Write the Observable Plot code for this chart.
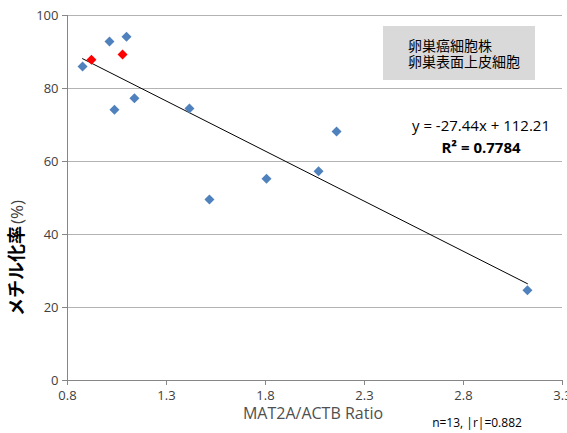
<!DOCTYPE html>
<html><head><meta charset="utf-8">
<script src="https://cdn.jsdelivr.net/npm/d3@7"></script>
<script src="https://cdn.jsdelivr.net/npm/@observablehq/plot@0.6"></script>
<style>
body{margin:0;background:#fff;}
#chart svg{font-family:"Open Sans","Noto Sans","Noto Sans CJK JP",sans-serif;}
</style>
</head><body><div id="chart"></div>
<script>
// Series: ovarian cancer cell lines (blue) and ovarian surface epithelium (red)
const cancerX = [0.876, 1.012, 1.098, 1.037, 1.138, 1.416, 1.517, 1.805, 2.068, 2.159, 3.123];
const cancerY = [86.0, 92.9, 94.2, 74.2, 77.3, 74.5, 49.6, 55.3, 57.3, 68.2, 24.7];
const oseX = [0.921, 1.078];
const oseY = [87.9, 89.3];
const seriesNames = ["卵巣癌細胞株", "卵巣表面上皮細胞"];
const slope = -27.44, intercept = 112.21;
const equationText = "y = -27.44x + 112.21";
const r2Text = "R² = 0.7784";
const xTicks = [0.8, 1.3, 1.8, 2.3, 2.8, 3.3];
const yTicks = [0, 20, 40, 60, 80, 100];
const xLabel = "MAT2A/ACTB Ratio";
const yLabelBold = "メチル化率";
const yLabelUnit = "(%)";
const noteText = "n=13, |r|=0.882";

const cancer = cancerX.map((x, i) => ({x, y: cancerY[i]}));
const ose = oseX.map((x, i) => ({x, y: oseY[i]}));
const allX = cancerX.concat(oseX);
const x0 = d3.min(allX), x1 = d3.max(allX);
const trend = [x0, x1].map(x => ({x, y: slope * x + intercept}));

const W = 567, H = 433;
const plot = Plot.plot({
  width: W, height: H,
  marginLeft: 67, marginRight: 5, marginTop: 15, marginBottom: 53,
  style: {fontSize: "13px", color: "#404040", background: "#fff"},
  x: {domain: [0.8, 3.3]},
  y: {domain: [0, 100]},
  marks: [
    Plot.gridY(yTicks, {stroke: "#b3b3b3", strokeOpacity: 1}),
    Plot.ruleX([0.8], {stroke: "#868686"}),
    Plot.ruleY([0], {stroke: "#868686"}),
    Plot.axisY({ticks: yTicks, tickSize: 5, tickPadding: 4, stroke: "#868686", fill: "#404040", label: null, tickFormat: d => String(d)}),
    Plot.axisX({ticks: xTicks, tickSize: 5, tickPadding: 5, stroke: "#868686", fill: "#404040", label: null, tickFormat: d3.format(".1f")}),
    Plot.line(trend, {x: "x", y: "y", stroke: "#000", strokeWidth: 1}),
    Plot.dot(cancer, {x: "x", y: "y", symbol: "diamond2", r: 4.5, fill: "#4f81bd", stroke: "none"}),
    Plot.dot(ose, {x: "x", y: "y", symbol: "diamond2", r: 4.5, fill: "#ff0000", stroke: "none"})
  ]
});
document.getElementById("chart").appendChild(plot);

const svg = d3.select(plot);
// legend box
const lg = svg.append("g");
lg.append("rect").attr("x", 383).attr("y", 26).attr("width", 152).attr("height", 54).attr("fill", "#d9d9d9");
seriesNames.forEach((t, i) => {
  lg.append("text").attr("x", 408).attr("y", 51 + i * 16).attr("font-size", 14).attr("fill", "#000")
    .attr("text-anchor", "start").attr("font-family", "Noto Sans CJK JP").text(t);
});
// equation
svg.append("text").attr("x", 481).attr("y", 131).attr("text-anchor", "middle").attr("font-size", 15).attr("fill", "#000").text(equationText);
svg.append("text").attr("x", 481).attr("y", 153).attr("text-anchor", "middle").attr("font-size", 15).attr("font-weight", "bold").attr("fill", "#000").text(r2Text);
// x label
svg.append("text").attr("x", 313).attr("y", 419).attr("text-anchor", "middle").attr("font-size", 16).attr("fill", "#505050").text(xLabel);
svg.append("text").attr("x", 477).attr("y", 427).attr("text-anchor", "middle").attr("font-size", 12).attr("fill", "#000").text(noteText);
// y label
const yl = svg.append("text").attr("transform", "translate(23,258) rotate(-90)").attr("text-anchor", "middle").attr("fill", "#000");
yl.append("tspan").attr("font-size", 18).attr("font-weight", "bold").attr("font-family", "Noto Sans CJK JP").text(yLabelBold);
yl.append("tspan").attr("font-size", 17).attr("dx", 2).attr("fill", "#404040").text(yLabelUnit);
</script></body></html>
